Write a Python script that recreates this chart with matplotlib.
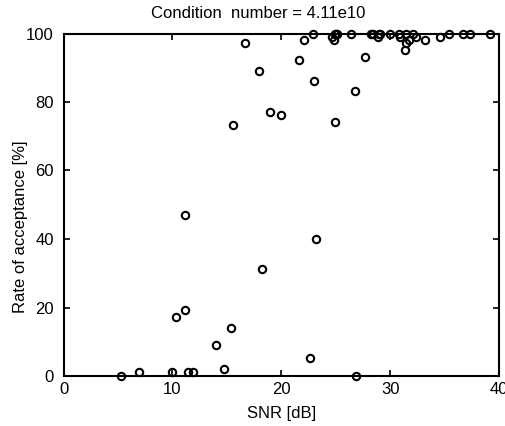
import matplotlib
matplotlib.use("Agg")
import matplotlib.pyplot as plt

# SNR [dB] and acceptance rate [%]
snr = [16.65, 17.94, 19.0, 20.0, 15.6, 21.6, 22.1, 22.9, 23.0, 26.8, 24.9, 27.7,
       24.7, 24.8, 24.9, 25.0, 25.1, 26.4, 28.2, 28.4, 28.9, 29.0, 29.1, 29.95,
       30.8, 30.9, 31.5, 31.4, 31.5, 31.7, 32.1, 32.4, 33.2, 34.6, 35.4, 36.7,
       37.3, 39.2,
       11.2, 18.2, 11.2, 10.3, 15.4, 14.0, 14.7, 5.3, 6.9, 10.0, 11.45, 11.9,
       23.2, 22.6, 26.9]
rate = [97.1, 89.1, 77.2, 76.2, 73.3, 92.2, 98.1, 100, 86.2, 83.2, 74.2, 93.1,
        99.1, 98.1, 100, 100, 100, 100, 100, 100, 99, 100, 100, 100,
        100, 99, 100, 95.2, 97.1, 98.1, 100, 99, 98.1, 99, 100, 100,
        100, 100,
        47.1, 31.1, 19.2, 17.2, 14.1, 9.1, 2.1, 0, 1.1, 1.1, 1.1, 1.1,
        40.1, 5.2, 0]

cond_label = "Condition  number = 4.11e10"

plt.rcParams["font.family"] = ["Liberation Sans", "DejaVu Sans"]
plt.rcParams["font.size"] = 12

W, H = 505, 426
fig = plt.figure(figsize=(W / 100, H / 100), dpi=100)
ax = fig.add_axes([63.5 / W, (H - 376) / H, 435.5 / W, 342.5 / H])

ax.plot(snr, rate, "o", mfc="none", mec="black", mew=1.5, ms=5.3, clip_on=False)

ax.set_xlim(0, 40)
ax.set_ylim(0, 100)
ax.set_xticks([0, 10, 20, 30, 40])
ax.set_yticks([0, 20, 40, 60, 80, 100])
ax.tick_params(direction="in", length=4, width=1.2, top=True, right=True,
               labeltop=False, labelright=False)
ax.tick_params(axis="x", pad=4.5)
ax.tick_params(axis="y", pad=7)
for s in ax.spines.values():
    s.set_linewidth(1.5)

# labels placed where the reference has them (slightly off-centre)
fig.text(258.5 / W, (H - 18) / H, cond_label, ha="center", va="baseline")
fig.text(282 / W, (H - 418) / H, "SNR [dB]", ha="center", va="baseline")
fig.text(21 / W, (H - 227) / H, "Rate of acceptance [%]", rotation=90,
         ha="center", va="center")

fig.savefig("out.png", dpi=100)
